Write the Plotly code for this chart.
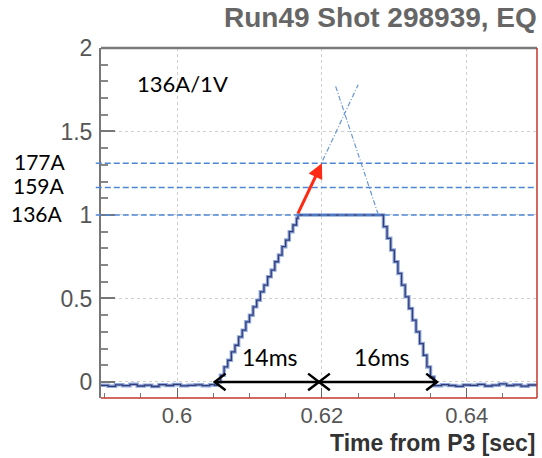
import plotly.graph_objects as go

# ---- data ----
t_pre = [0.5895, 0.5905, 0.5915, 0.5925, 0.5935, 0.5945, 0.5955, 0.5965, 0.5975,
         0.5985, 0.5995, 0.6005, 0.6015, 0.6025, 0.6035, 0.6045, 0.6052]
v_pre = [-0.020, -0.026, -0.017, -0.022, -0.014, -0.024, -0.019, -0.027, -0.016,
         -0.021, -0.015, -0.023, -0.020, -0.017, -0.022, -0.016, -0.020]

t_up = [0.6055, 0.6060, 0.6065, 0.6070, 0.6075, 0.6080, 0.6085, 0.6090, 0.6095,
        0.6100, 0.6105, 0.6110, 0.6115, 0.6120, 0.6125, 0.6130, 0.6135, 0.6140,
        0.6145, 0.6150, 0.6155, 0.6160, 0.6165]
v_up = [0.00, 0.04, 0.09, 0.13, 0.18, 0.22, 0.27, 0.31, 0.36, 0.40, 0.45, 0.49,
        0.54, 0.58, 0.63, 0.67, 0.72, 0.76, 0.81, 0.85, 0.90, 0.94, 0.98]

t_flat = [0.6167, 0.6200, 0.6240, 0.6275]
v_flat = [1.00, 1.00, 1.00, 1.00]

t_dn = [0.6280, 0.6285, 0.6290, 0.6295, 0.6300, 0.6305, 0.6310, 0.6315, 0.6320,
        0.6325, 0.6330, 0.6335, 0.6340, 0.6345, 0.6350]
v_dn = [1.00, 0.93, 0.86, 0.79, 0.72, 0.65, 0.58, 0.51, 0.44, 0.37, 0.30, 0.23,
        0.16, 0.09, 0.03]

t_post = [0.6355, 0.6365, 0.6375, 0.6385, 0.6395, 0.6405, 0.6415, 0.6425, 0.6435,
          0.6445, 0.6455, 0.6465, 0.6475, 0.6485, 0.6497]
v_post = [-0.022, -0.016, -0.021, -0.026, -0.018, -0.020, -0.015, -0.024, -0.019,
          -0.012, -0.021, -0.017, -0.025, -0.018, -0.020]

# current levels (fraction of 136 A full scale)
level_names = ["177A", "159A", "136A"]
level_vals = [1.31, 1.165, 1.00]

# extrapolation lines (dash-dot)
ext_up_t = [0.6166, 0.6250]
ext_up_v = [1.00, 1.78]
ext_dn_t = [0.6219, 0.6278]
ext_dn_v = [1.77, 1.00]

# red arrow (start -> tip)
red_arrow = [(0.6166, 1.00), (0.6200, 1.31)]

# duration arrows
dur_labels = ["14ms", "16ms"]
dur_start = [0.6052, 0.6196]
dur_end = [0.6196, 0.6359]
dur_y = 0.0

x_ticks = [0.6, 0.62, 0.64]
x_tick_text = ["0.6", "0.62", "0.64"]
y_ticks = [0, 0.5, 1, 1.5, 2]
y_tick_text = ["0", "0.5", "1", "1.5", "2"]

X_RANGE = [0.5895, 0.6497]
Y_RANGE = [-0.096, 2.0]

# ---- figure ----
t_all = t_pre + t_up + t_flat + t_dn + t_post
v_all = v_pre + v_up + v_flat + v_dn + v_post

fig = go.Figure()

fig.add_trace(go.Scatter(x=ext_up_t, y=ext_up_v, mode="lines",
                         line=dict(color="#6a97d4", width=1.2, dash="5px,2px,1px,2px"),
                         hoverinfo="skip", showlegend=False))
fig.add_trace(go.Scatter(x=ext_dn_t, y=ext_dn_v, mode="lines",
                         line=dict(color="#6a97d4", width=1.2, dash="5px,2px,1px,2px"),
                         hoverinfo="skip", showlegend=False))

fig.add_trace(go.Scatter(x=t_all, y=v_all, mode="lines", line_shape="hv",
                         line=dict(color="#8fa9db", width=3.5),
                         hoverinfo="skip", showlegend=False))
fig.add_trace(go.Scatter(x=t_all, y=v_all, mode="lines", line_shape="hv",
                         line=dict(color="#343c7a", width=1.3),
                         hoverinfo="skip", showlegend=False))

# duration arrows drawn with open V heads
hl = 0.0015
hh = 0.05
for s, e in zip(dur_start, dur_end):
    xs = [s, e, None,
          s + hl, s, s + hl, None,
          e - hl, e, e - hl]
    ys = [dur_y, dur_y, None,
          dur_y + hh, dur_y, dur_y - hh, None,
          dur_y + hh, dur_y, dur_y - hh]
    fig.add_trace(go.Scatter(x=xs, y=ys, mode="lines",
                             line=dict(color="black", width=2.5),
                             hoverinfo="skip", showlegend=False))

shapes = []
for v in level_vals:
    shapes.append(dict(type="line", xref="paper", yref="y", x0=-0.012, x1=1, y0=v, y1=v,
                       line=dict(color="#4f86d4", width=1.6, dash="6px,3px"), layer="above"))
# frame
shapes.append(dict(type="line", xref="paper", yref="paper", x0=0, x1=1, y0=1, y1=1,
                   line=dict(color="#7a7a7a", width=2.5)))
shapes.append(dict(type="line", xref="paper", yref="paper", x0=1, x1=1, y0=0, y1=1,
                   line=dict(color="#c0392b", width=1.5)))
shapes.append(dict(type="line", xref="paper", yref="paper", x0=0, x1=1, y0=0, y1=0,
                   line=dict(color="#c0392b", width=1.5)))

annotations = [
    dict(text="Run49 Shot 298939, EQ", xref="paper", yref="paper", x=1.005, y=1.086,
         xanchor="right", yanchor="middle", showarrow=False,
         font=dict(family="Liberation Sans", size=28, color="#666666", weight="bold")),
    dict(text="Time from P3 [sec]", xref="paper", yref="paper", x=1.0, y=-0.128,
         xanchor="right", yanchor="middle", showarrow=False,
         font=dict(family="Liberation Sans", size=23, color="#333333", weight="bold")),
    dict(text="136A/1V", xref="x", yref="y", x=0.5942, y=1.79,
         xanchor="left", yanchor="middle", showarrow=False,
         font=dict(family="Lato", size=22, color="black")),
    dict(text="", xref="x", yref="y", axref="x", ayref="y",
         x=red_arrow[1][0], y=red_arrow[1][1], ax=red_arrow[0][0], ay=red_arrow[0][1],
         showarrow=True, arrowhead=2, arrowsize=1.0, arrowwidth=3, arrowcolor="#ff2a14"),
]
lx = [-0.204, -0.206, -0.211]
for name, v, x in zip(level_names, level_vals, lx):
    annotations.append(dict(text=name, xref="paper", yref="y", x=x, y=v + 0.01,
                            xanchor="left", yanchor="middle", showarrow=False,
                            font=dict(family="Lato", size=21, color="black")))
for lab, s, e in zip(dur_labels, dur_start, dur_end):
    annotations.append(dict(text=lab, xref="x", yref="y", x=(s + e) / 2 + 0.0005, y=0.15,
                            xanchor="center", yanchor="middle", showarrow=False,
                            font=dict(family="Lato", size=23, color="black")))

fig.update_layout(
    width=542, height=458,
    margin=dict(l=101, r=5, t=48, b=60),
    paper_bgcolor="white", plot_bgcolor="white",
    shapes=shapes, annotations=annotations,
    showlegend=False,
    xaxis=dict(range=X_RANGE, tickvals=x_ticks, ticktext=x_tick_text,
               ticks="inside", ticklen=10, tickcolor="#666", tickwidth=1,
               showgrid=True, gridcolor="#cfcfcf", griddash="dot", gridwidth=1,
               zeroline=False, showline=False,
               tickfont=dict(family="Liberation Sans", size=22, color="#555555"),
               ticklabelstandoff=2,
               minor=dict(dtick=0.005, tick0=0.6, ticks="inside", ticklen=5,
                          tickcolor="#777", showgrid=False)),
    yaxis=dict(range=Y_RANGE, tickvals=y_ticks, ticktext=y_tick_text,
               ticks="inside", ticklen=14, tickcolor="#777", tickwidth=1.5,
               showgrid=True, gridcolor="#cfcfcf", griddash="dot", gridwidth=1,
               zeroline=False, showline=True, linecolor="#777", linewidth=2,
               tickfont=dict(family="Liberation Sans", size=23, color="#555555"),
               ticklabelstandoff=2,
               minor=dict(dtick=0.1, tick0=0, ticks="inside", ticklen=7,
                          tickcolor="#888", showgrid=False)),
)

fig.write_html("out.html")
